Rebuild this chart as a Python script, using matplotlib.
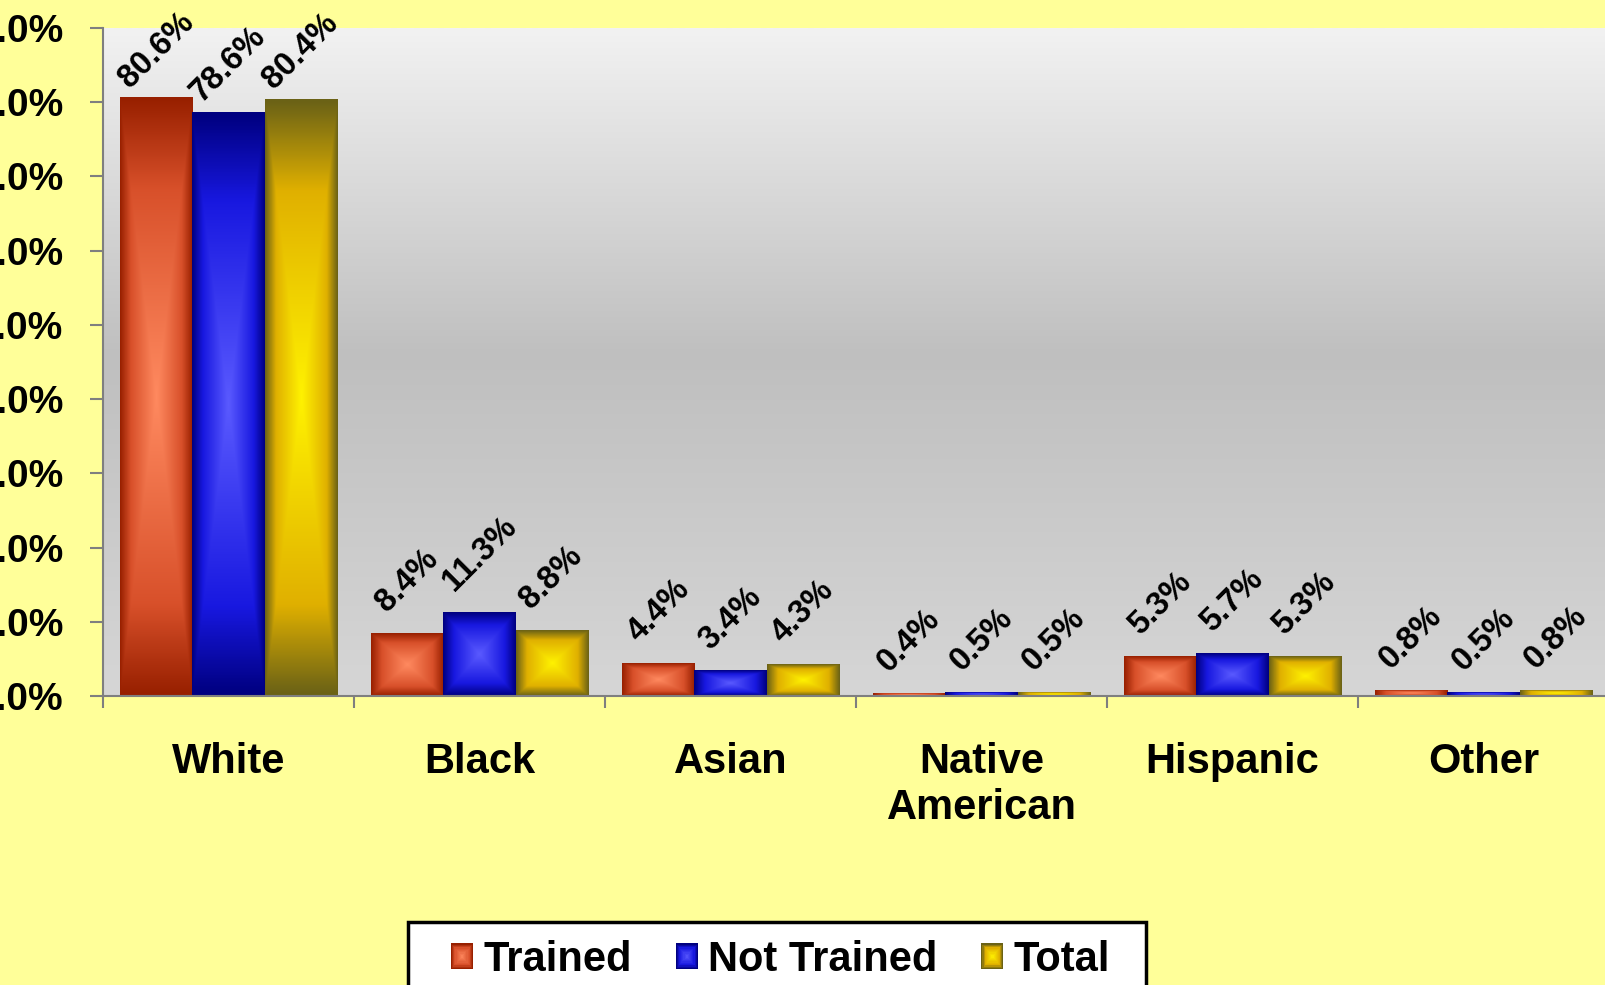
import numpy as np
import matplotlib
matplotlib.use('Agg')
import matplotlib.pyplot as plt
from matplotlib.colors import LinearSegmentedColormap
from matplotlib.patches import Rectangle
from matplotlib.legend_handler import HandlerBase

plt.rcParams['font.family'] = ['Liberation Sans', 'DejaVu Sans']
plt.rcParams['font.weight'] = 'bold'

# data (percent)
categories = ['White', 'Black', 'Asian', 'Native\nAmerican', 'Hispanic', 'Other']
trained = [80.6, 8.4, 4.4, 0.4, 5.3, 0.8]
not_trained = [78.6, 11.3, 3.4, 0.5, 5.7, 0.5]
total = [80.4, 8.8, 4.3, 0.5, 5.3, 0.8]
series_names = ['Trained', 'Not Trained', 'Total']
yticks = np.arange(0, 91, 10)
ytick_labels = ['{:.1f}%'.format(v) for v in yticks]

# edge -> mid -> centre colours for the "from centre" gradient
cmaps = [
    LinearSegmentedColormap.from_list('tr', [(0, '#982000'), (0.3, '#D8502A'), (1, '#FF8A60')]),
    LinearSegmentedColormap.from_list('nt', [(0, '#000080'), (0.3, '#1818E0'), (1, '#5A5AFF')]),
    LinearSegmentedColormap.from_list('to', [(0, '#6B6216'), (0.3, '#E0B000'), (1, '#FFF200')]),
]
bg_cmap = LinearSegmentedColormap.from_list('bg', [(0, '#D6D6D6'), (0.51, '#BFBFBF'), (1, '#F2F2F2')])

fig = plt.figure(figsize=(16.06, 9.85), dpi=100, facecolor='#FFFF99')
ax = fig.add_axes([103/1606, 1-696/985, 1506/1606, 668/985])
ax.set_facecolor('none')

# plot area gradient
grad = np.linspace(0, 1, 256).reshape(-1, 1)
ax.imshow(grad, extent=[0, 1, 0, 1], transform=ax.transAxes, cmap=bg_cmap,
          aspect='auto', origin='lower', zorder=0, interpolation='bilinear')

# pyramid-like gradient tile
u = np.linspace(-1, 1, 121)
uu, vv = np.meshgrid(u, u)
tile = 1 - np.maximum(np.abs(uu), np.abs(vv))

x = np.arange(len(categories))
w = 0.287
containers = []
for i, (vals, cm) in enumerate(zip([trained, not_trained, total], cmaps)):
    bars = ax.bar(x + (i - 1) * w, vals, width=w, color='none', edgecolor='none',
                  label=series_names[i], zorder=2)
    containers.append(bars)
    for b, v in zip(bars, vals):
        x0, y0 = b.get_x(), b.get_y()
        ax.imshow(tile, extent=[x0, x0 + b.get_width(), y0, y0 + b.get_height()],
                  cmap=cm, vmin=0, vmax=1, aspect='auto', origin='lower',
                  interpolation='bilinear', zorder=2)
        off = 3 if v > 70 else 11
        ax.annotate('{:.1f}%'.format(v), xy=(x0 + b.get_width() / 2, v),
                    xytext=(0, off), textcoords='offset points', ha='center',
                    va='bottom', rotation=45, fontsize=23.5, fontweight='bold', zorder=5)

ax.set_xlim(-0.5, len(categories) - 0.5)
ax.set_ylim(0, 90)
ax.set_aspect('auto')

for s in ['top', 'right']:
    ax.spines[s].set_visible(False)
for s in ['left', 'bottom']:
    ax.spines[s].set_color('#7F7F7F')
    ax.spines[s].set_linewidth(1.5)
    ax.spines[s].set_zorder(4)

ax.set_yticks(yticks)
ax.set_yticklabels(ytick_labels)
ax.tick_params(axis='y', length=9.4, width=1.5, color='#7F7F7F', pad=19, labelsize=28)

ax.set_xticks(np.arange(-0.5, len(categories), 1))
ax.set_xticklabels([])
ax.set_xticks(x, minor=True)
ax.set_xticklabels(categories, minor=True, fontsize=30, fontweight='bold', linespacing=1.2)
ax.tick_params(axis='x', which='major', length=8.6, width=1.5, color='#7F7F7F')
ax.tick_params(axis='x', which='minor', length=0, pad=33)


class GradHandler(HandlerBase):
    def __init__(self, cmap):
        super().__init__()
        self.cmap = cmap

    def create_artists(self, legend, orig_handle, xdescent, ydescent, width, height, fontsize, trans):
        arts = []
        n = 10
        for k in range(n):
            f = k / n
            dx = width * f / 2
            dy = height * f / 2
            arts.append(Rectangle((-xdescent + dx, -ydescent + dy), width - 2 * dx,
                                  height - 2 * dy, facecolor=self.cmap(f),
                                  edgecolor='none', transform=trans))
        return arts


hmap = {c: GradHandler(cm) for c, cm in zip(containers, cmaps)}
leg = fig.legend(containers, series_names, handler_map=hmap, loc='upper left',
                 bbox_to_anchor=(451/1606, 1-940/985), ncol=3, frameon=False,
                 fontsize=30, borderpad=0, borderaxespad=0, handlelength=0.53,
                 handleheight=0.58, handletextpad=0.24, columnspacing=1.06)
for t in leg.get_texts():
    t.set_fontweight('bold')

fig.patches.append(Rectangle((408/1606, -0.05), 738/1606, 0.05 + 1-922/985,
                             transform=fig.transFigure, facecolor='white',
                             edgecolor='black', linewidth=2.5, zorder=0))

fig.savefig('out.png', dpi=100, facecolor=fig.get_facecolor())
